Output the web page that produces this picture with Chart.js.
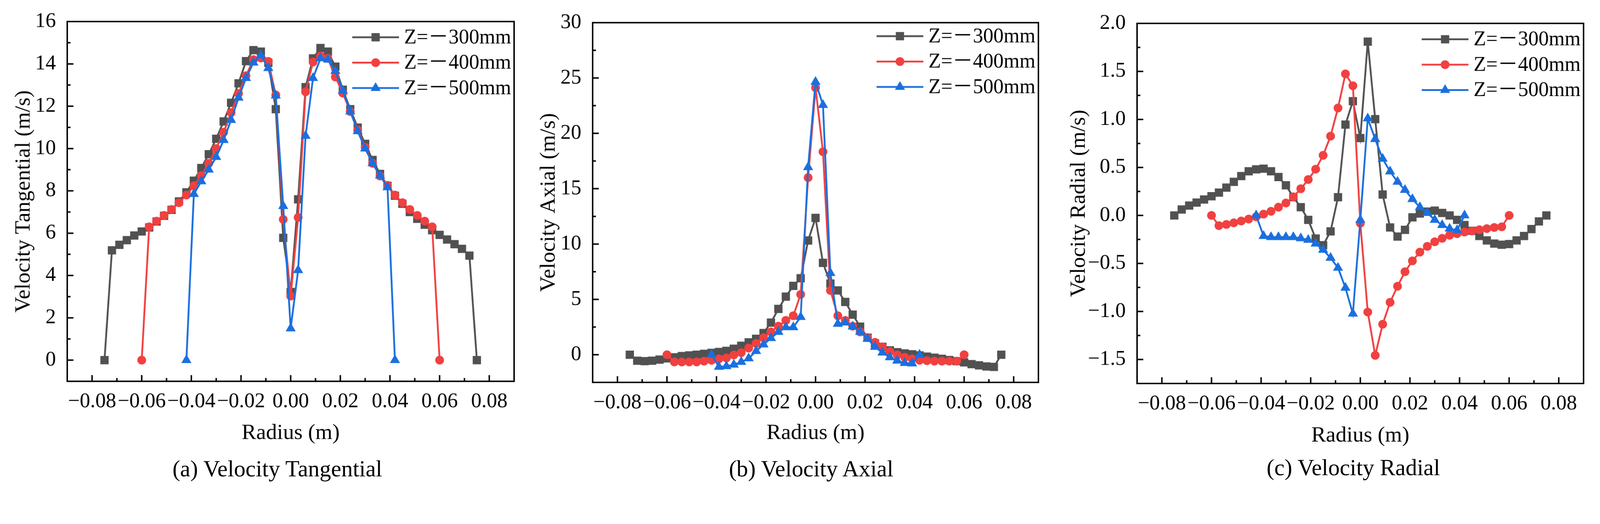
<!DOCTYPE html>
<html>
<head>
<meta charset="utf-8">
<script src="https://cdn.jsdelivr.net/npm/chart.js@4.4.1/dist/chart.umd.min.js"></script>
<style>
  html, body { margin: 0; padding: 0; background: #fff; overflow: hidden; }
  #page { position: relative; width: 4379px; height: 1342px; overflow: hidden; background: #fff; transform-origin: 0 0; }
  canvas { position: absolute; top: 0; }
  .caption {
    position: absolute;
    font-family: "Liberation Serif", serif;
    font-size: 63px;
    color: #000;
    white-space: nowrap;
    transform: translate(-50%, -50%);
  }
</style>
</head>
<body>
<div id="page">
  <canvas id="chartA" width="1460" height="1342" style="left:0px;width:1460px;height:1342px"></canvas>
  <canvas id="chartB" width="1460" height="1342" style="left:1460px;width:1460px;height:1342px"></canvas>
  <canvas id="chartC" width="1459" height="1342" style="left:2920px;width:1459px;height:1342px"></canvas>
  <div class="caption" style="left:759px;top:1284px">(a) Velocity Tangential</div>
  <div class="caption" style="left:2220px;top:1284px">(b) Velocity Axial</div>
  <div class="caption" style="left:3704px;top:1281px">(c) Velocity Radial</div>
</div>
<script>
// radius positions of each measuring line (m)
const radius300 = [-0.075, -0.072, -0.069, -0.066, -0.063, -0.060, -0.057, -0.054, -0.051, -0.048,
  -0.045, -0.042, -0.039, -0.036, -0.033, -0.030, -0.027, -0.024, -0.021, -0.018, -0.015, -0.012,
  -0.009, -0.006, -0.003, 0, 0.003, 0.006, 0.009, 0.012, 0.015, 0.018, 0.021, 0.024, 0.027, 0.030,
  0.033, 0.036, 0.039, 0.042, 0.045, 0.048, 0.051, 0.054, 0.057, 0.060, 0.063, 0.066, 0.069, 0.072, 0.075];
const radius400 = [-0.060, -0.057, -0.054, -0.051, -0.048, -0.045, -0.042, -0.039, -0.036, -0.033,
  -0.030, -0.027, -0.024, -0.021, -0.018, -0.015, -0.012, -0.009, -0.006, -0.003, 0, 0.003, 0.006,
  0.009, 0.012, 0.015, 0.018, 0.021, 0.024, 0.027, 0.030, 0.033, 0.036, 0.039, 0.042, 0.045, 0.048,
  0.051, 0.054, 0.057, 0.060];
const radius500 = [-0.042, -0.039, -0.036, -0.033, -0.030, -0.027, -0.024, -0.021, -0.018, -0.015,
  -0.012, -0.009, -0.006, -0.003, 0, 0.003, 0.006, 0.009, 0.012, 0.015, 0.018, 0.021, 0.024, 0.027,
  0.030, 0.033, 0.036, 0.039, 0.042];

// (a) tangential velocity (m/s)
const tangential300 = [0, 5.19, 5.45, 5.67, 5.89, 6.08, 6.27, 6.55, 6.82, 7.1, 7.5, 7.93, 8.48, 9.08,
  9.73, 10.46, 11.28, 12.16, 13.08, 14.13, 14.65, 14.58, 14.05, 11.86, 5.78, 3.22,
  7.6, 12.9, 14.26, 14.75, 14.58, 13.87, 12.78, 11.86, 10.99, 10.22, 9.46, 8.8, 8.24, 7.77, 7.39,
  7.0, 6.68, 6.4, 6.14, 5.92, 5.7, 5.48, 5.26, 4.94, 0];
const tangential400 = [0, 6.3, 6.57, 6.84, 7.12, 7.44, 7.8, 8.24, 8.72, 9.3, 10.0, 10.77, 11.7, 12.6,
  13.44, 14.2, 14.28, 14.12, 12.53, 6.65, 3.03,
  6.74, 12.68, 14.09, 14.37, 14.26, 13.38, 12.62, 11.75, 10.88, 10.06, 9.3, 8.7, 8.26, 7.8, 7.44,
  7.12, 6.84, 6.57, 6.3, 0];
const tangential500 = [0, 7.85, 8.45, 9.0, 9.6, 10.4, 11.35, 12.4, 13.33, 14.06, 14.4, 13.8, 12.5, 7.28, 1.5,
  4.25, 10.6, 13.33, 14.26, 14.2, 13.66, 12.73, 11.75, 10.82, 10.0, 9.3, 8.72, 8.17, 0];

// (b) axial velocity (m/s)
const axial300 = [0, -0.54, -0.58, -0.54, -0.44, -0.33, -0.23, -0.12, -0.06, 0.0, 0.08, 0.17, 0.25,
  0.35, 0.54, 0.81, 1.12, 1.44, 1.96, 2.9, 4.14, 5.25, 6.22, 6.91, 10.32, 12.36,
  8.3, 6.43, 5.81, 4.77, 3.62, 2.54, 1.54, 1.02, 0.71, 0.4, 0.23, 0.12, 0.04, -0.06, -0.17, -0.27,
  -0.37, -0.48, -0.58, -0.69, -0.85, -0.96, -1.06, -1.1, 0];
const axial400 = [0, -0.65, -0.65, -0.65, -0.65, -0.58, -0.5, -0.37, -0.29, -0.02, 0.19, 0.6, 1.02,
  1.54, 2.06, 2.58, 3.1, 3.52, 5.45, 16.0, 24.13,
  18.34, 5.81, 3.52, 3.1, 2.58, 2.06, 1.54, 1.12, 0.71, 0.29, -0.02, -0.23, -0.37, -0.5, -0.54,
  -0.58, -0.58, -0.58, -0.58, 0];
const axial500 = [0, -1.1, -1.04, -0.9, -0.65, -0.33, 0.33, 0.92, 1.5, 2.06, 2.48, 2.48, 3.41, 16.94, 24.65,
  22.56, 7.37, 2.79, 2.9, 2.54, 2.06, 1.44, 0.71, 0.19, -0.23, -0.54, -0.75, -0.79, 0.0];

// (c) radial velocity (m/s)
const radial300 = [0, 0.062, 0.103, 0.134, 0.166, 0.2, 0.238, 0.29, 0.35, 0.41, 0.46, 0.48, 0.487,
  0.46, 0.4, 0.314, 0.19, 0.086, -0.046, -0.24, -0.31, -0.166, 0.19, 0.946, 1.19, 0.806,
  1.81, 1.003, 0.218, -0.125, -0.22, -0.15, -0.02, 0.02, 0.04, 0.05, 0.026, 0.0, -0.046, -0.1,
  -0.16, -0.214, -0.26, -0.293, -0.305, -0.298, -0.26, -0.214, -0.142, -0.062, 0];
const radial400 = [0, -0.106, -0.094, -0.077, -0.058, -0.038, -0.014, 0.014, 0.043, 0.086, 0.13,
  0.194, 0.278, 0.374, 0.482, 0.626, 0.826, 1.119, 1.474, 1.351, -0.08,
  -1.006, -1.457, -1.133, -0.905, -0.737, -0.586, -0.473, -0.382, -0.322, -0.274, -0.238, -0.206,
  -0.19, -0.173, -0.161, -0.149, -0.137, -0.125, -0.118, 0];
const radial500 = [0, -0.214, -0.226, -0.226, -0.226, -0.226, -0.238, -0.254, -0.293, -0.358, -0.442,
  -0.545, -0.754, -1.023, -0.046,
  1.01, 0.795, 0.59, 0.458, 0.35, 0.266, 0.17, 0.086, 0.026, -0.046, -0.1, -0.137, -0.154, 0.0];

// tick labels
const xTicks = [-0.08, -0.06, -0.04, -0.02, 0, 0.02, 0.04, 0.06, 0.08];
const yTicksA = [0, 2, 4, 6, 8, 10, 12, 14, 16];
const yTicksB = [0, 5, 10, 15, 20, 25, 30];
const yTicksC = [-1.5, -1.0, -0.5, 0, 0.5, 1.0, 1.5, 2.0];

const seriesLabels = ['Z=\uFF0D300mm', 'Z=\uFF0D400mm', 'Z=\uFF0D500mm'];
const seriesColors = ['#515151', '#F14040', '#1A6FDF'];
const seriesMarkers = ['rect', 'circle', 'triangle'];
const markerSizes = [16, 12, 16];

const SERIF = "'Liberation Serif', serif";
const LEGEND_FONT = "56px 'Liberation Serif', 'Noto Sans CJK SC', serif";

Chart.defaults.font.family = SERIF;
Chart.defaults.color = '#000';

// fit the 4379 x 1342 layout into whatever viewport we get
const page = document.getElementById('page');
const fit = Math.min(window.innerWidth / 4379, window.innerHeight / 1342);
if (fit > 0 && Math.abs(fit - 1) > 0.002) page.style.transform = 'scale(' + fit + ')';

function fmt(v, digits) {
  const s = Math.abs(v).toFixed(digits);
  return (v < 0 ? '\u2212' : '') + s;
}

// minor ticks sit halfway between the major ones
function halfSteps(ticks) {
  const out = [];
  for (let i = 0; i < ticks.length - 1; i++) out.push((ticks[i] + ticks[i + 1]) / 2);
  return out;
}

function drawMarker(ctx, style, r, x, y) {
  ctx.beginPath();
  if (style === 'rect') {
    const s = Math.SQRT1_2 * r;
    ctx.rect(x - s, y - s, 2 * s, 2 * s);
  } else if (style === 'circle') {
    ctx.arc(x, y, r, 0, Math.PI * 2);
  } else {
    ctx.moveTo(x, y - r);
    ctx.lineTo(x + r * Math.sin(Math.PI * 2 / 3), y + r / 2);
    ctx.lineTo(x - r * Math.sin(Math.PI * 2 / 3), y + r / 2);
    ctx.closePath();
  }
  ctx.fill();
}

// box, inward ticks and legend
function framePlugin(cfg) {
  return {
    id: 'frame',
    afterDraw(chart) {
      const ctx = chart.ctx;
      const a = chart.chartArea;
      const x = chart.scales.x;
      const y = chart.scales.y;
      ctx.save();
      ctx.strokeStyle = '#000';
      ctx.lineWidth = 4;
      ctx.beginPath();
      xTicks.forEach(v => {
        const p = x.getPixelForValue(v);
        ctx.moveTo(p, a.bottom); ctx.lineTo(p, a.bottom - 17);
      });
      halfSteps(xTicks).forEach(v => {
        const p = x.getPixelForValue(v);
        ctx.moveTo(p, a.bottom); ctx.lineTo(p, a.bottom - 9);
      });
      cfg.yTicks.forEach(v => {
        const p = y.getPixelForValue(v);
        ctx.moveTo(a.left, p); ctx.lineTo(a.left + 17, p);
      });
      halfSteps(cfg.yTicks).forEach(v => {
        const p = y.getPixelForValue(v);
        ctx.moveTo(a.left, p); ctx.lineTo(a.left + 9, p);
      });
      ctx.stroke();
      ctx.strokeRect(a.left, a.top, a.right - a.left, a.bottom - a.top);

      // legend
      ctx.font = LEGEND_FONT;
      ctx.textBaseline = 'middle';
      ctx.textAlign = 'left';
      seriesLabels.forEach((label, i) => {
        const ly = a.top + cfg.legendTop + i * 69.5;
        const x0 = a.right - 443, x1 = a.right - 315;
        ctx.strokeStyle = seriesColors[i];
        ctx.lineWidth = 5;
        ctx.beginPath();
        ctx.moveTo(x0, ly); ctx.lineTo(x1, ly);
        ctx.stroke();
        ctx.fillStyle = seriesColors[i];
        drawMarker(ctx, seriesMarkers[i], markerSizes[i], (x0 + x1) / 2, ly);
        ctx.fillStyle = '#000';
        ctx.fillText(label, a.right - 301, ly + 2);
      });
      ctx.restore();
    }
  };
}

function buildChart(id, cfg) {
  const datasets = cfg.series.map((s, i) => ({
    label: seriesLabels[i],
    data: s.r.map((r, j) => ({ x: r, y: s.v[j] })),
    borderColor: seriesColors[i],
    backgroundColor: seriesColors[i],
    pointBackgroundColor: seriesColors[i],
    pointBorderWidth: 0,
    pointStyle: seriesMarkers[i],
    pointRadius: markerSizes[i],
    borderWidth: 5,
    tension: 0,
    order: 3 - i
  }));

  return new Chart(document.getElementById(id), {
    type: 'line',
    data: { datasets },
    options: {
      responsive: false,
      animation: false,
      layout: { padding: { left: 0, top: cfg.top, right: cfg.right, bottom: 0 } },
      plugins: { legend: { display: false }, tooltip: { enabled: false } },
      scales: {
        x: {
          type: 'linear',
          min: -0.09,
          max: 0.09,
          grid: { display: false },
          border: { display: false },
          afterBuildTicks: s => { s.ticks = xTicks.map(v => ({ value: v })); },
          afterFit: s => { s.height = cfg.xHeight; },
          ticks: {
            autoSkip: false,
            maxRotation: 0,
            padding: 14,
            color: '#000',
            font: { family: SERIF, size: 57 },
            callback: v => fmt(v, 2)
          },
          title: {
            display: true,
            text: 'Radius (m)',
            color: '#000',
            font: { family: SERIF, size: 60, lineHeight: 1 },
            padding: { top: 0, bottom: cfg.xTitlePad }
          }
        },
        y: {
          type: 'linear',
          min: cfg.yMin,
          max: cfg.yMax,
          grid: { display: false },
          border: { display: false },
          afterBuildTicks: s => { s.ticks = cfg.yTicks.map(v => ({ value: v })); },
          afterFit: s => { s.width = cfg.yWidth; },
          ticks: {
            autoSkip: false,
            padding: 23,
            color: '#000',
            font: { family: SERIF, size: 57 },
            callback: v => fmt(v, cfg.yDigits)
          },
          title: {
            display: true,
            text: cfg.yTitle,
            color: '#000',
            font: { family: SERIF, size: 60, lineHeight: 1 },
            padding: { top: cfg.yTitlePad, bottom: 0 }
          }
        }
      }
    },
    plugins: [framePlugin(cfg)]
  });
}

buildChart('chartA', {
  series: [
    { r: radius300, v: tangential300 },
    { r: radius400, v: tangential400 },
    { r: radius500, v: tangential500 }
  ],
  yMin: -1, yMax: 16, yTicks: yTicksA, yDigits: 0,
  yTitle: 'Velocity Tangential (m/s)',
  top: 59, right: 53, yWidth: 184, xHeight: 298,
  xTitlePad: 126, yTitlePad: 35, legendTop: 43
});

buildChart('chartB', {
  series: [
    { r: radius300, v: axial300 },
    { r: radius400, v: axial400 },
    { r: radius500, v: axial500 }
  ],
  yMin: -2.5, yMax: 30, yTicks: yTicksB, yDigits: 0,
  yTitle: 'Velocity Axial (m/s)',
  top: 62, right: 78, yWidth: 162, xHeight: 295,
  xTitlePad: 126, yTitlePad: 12, legendTop: 37
});

buildChart('chartC', {
  series: [
    { r: radius300, v: radial300 },
    { r: radius400, v: radial400 },
    { r: radius500, v: radial500 }
  ],
  yMin: -1.75, yMax: 2.0, yTicks: yTicksC, yDigits: 1,
  yTitle: 'Velocity Radial (m/s)',
  top: 64, right: 45, yWidth: 192, xHeight: 292,
  xTitlePad: 119, yTitlePad: 3, legendTop: 43.5
});
</script>
</body>
</html>
